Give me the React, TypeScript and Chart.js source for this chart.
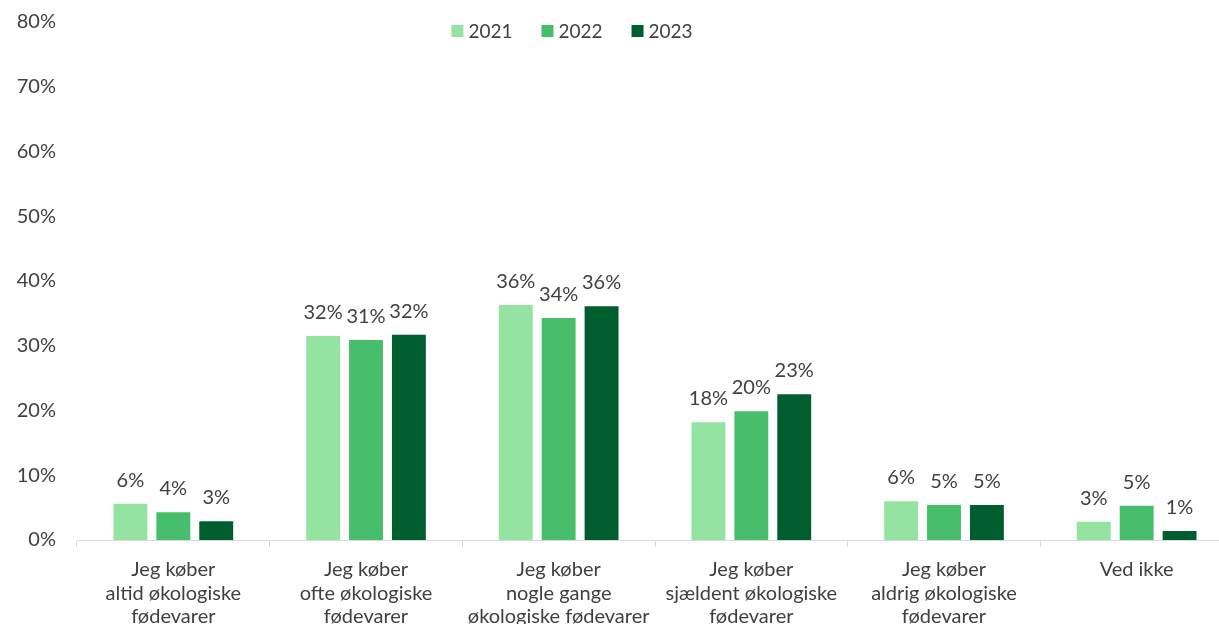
import React, { useEffect, useRef } from 'react';
import { Chart, registerables } from 'chart.js';

Chart.register(...registerables);

const categories: string[][] = [
  ['Jeg køber', 'altid økologiske', 'fødevarer'],
  ['Jeg køber', 'ofte økologiske', 'fødevarer'],
  ['Jeg køber', 'nogle gange', 'økologiske fødevarer'],
  ['Jeg køber', 'sjældent økologiske', 'fødevarer'],
  ['Jeg køber', 'aldrig økologiske', 'fødevarer'],
  ['Ved ikke'],
];
const seriesNames = ['2021', '2022', '2023'];
const values2021 = [5.6, 31.5, 36.3, 18.2, 6.0, 2.8];
const values2022 = [4.3, 30.9, 34.3, 19.9, 5.4, 5.3];
const values2023 = [2.9, 31.7, 36.1, 22.5, 5.4, 1.4];
const seriesColors = ['#95E3A0', '#47BE6C', '#005D2E'];
const yMin = 0;
const yMax = 80;
const yStep = 10;

const FONT = 'Lato';
const TEXT = '#404040';
const CW = 1240;
const CH = 650;

const dataLabels = {
  id: 'dataLabels',
  afterDatasetsDraw(chart: any) {
    const ctx = chart.ctx;
    ctx.save();
    ctx.font = `20px ${FONT}`;
    ctx.fillStyle = TEXT;
    ctx.textAlign = 'center';
    ctx.textBaseline = 'alphabetic';
    chart.data.datasets.forEach((ds: any, i: number) => {
      const meta = chart.getDatasetMeta(i);
      meta.data.forEach((bar: any, j: number) => {
        const v = ds.data[j];
        ctx.fillText(Math.round(v) + '%', bar.x, bar.y - 17);
      });
    });
    ctx.restore();
  },
};

const topLegend = {
  id: 'topLegend',
  afterDraw(chart: any, _args: any, opts: any) {
    const ctx = chart.ctx;
    ctx.save();
    ctx.font = `19px ${FONT}`;
    ctx.textBaseline = 'middle';
    ctx.textAlign = 'left';
    const box = 12;
    const gapBoxText = 5;
    const gapItems = 29;
    const items = chart.data.datasets.map((ds: any) => ({
      label: ds.label,
      color: ds.backgroundColor,
      w: box + gapBoxText + ctx.measureText(ds.label).width,
    }));
    const total = items.reduce((s: number, it: any) => s + it.w, 0) + gapItems * (items.length - 1);
    let x = opts.centerX - total / 2;
    const y = opts.centerY;
    items.forEach((it: any) => {
      ctx.fillStyle = it.color;
      ctx.fillRect(x, y - box / 2, box, box);
      ctx.fillStyle = TEXT;
      ctx.fillText(it.label, x + box + gapBoxText, y + 1);
      x += it.w + gapItems;
    });
    ctx.restore();
  },
};

export default function App() {
  const ref = useRef<HTMLCanvasElement>(null);
  useEffect(() => {
    if (!ref.current) return;
    const seriesValues = [values2021, values2022, values2023];
    const chart = new Chart(ref.current, {
      type: 'bar',
      data: {
        labels: categories as any,
        datasets: seriesNames.map((name, i) => ({
          label: name,
          data: seriesValues[i],
          backgroundColor: seriesColors[i],
          borderWidth: 0,
          categoryPercentage: 0.668,
          barPercentage: 0.79,
        })),
      },
      options: {
        animation: false,
        responsive: false,
        layout: { padding: { top: 22, right: 7, left: 0, bottom: 0 } },
        plugins: {
          legend: { display: false },
          tooltip: { enabled: false },
          topLegend: { centerX: 572, centerY: 31 },
        } as any,
        scales: {
          x: {
            afterFit(scale: any) {
              scale.height = CH - 540;
              scale.paddingLeft = 0;
              scale.paddingRight = 0;
            },
            grid: {
              display: true,
              offset: true,
              drawOnChartArea: false,
              drawTicks: true,
              tickLength: 7,
              color: '#d9d9d9',
            },
            border: { display: true, color: '#d9d9d9', width: 1 },
            ticks: {
              color: TEXT,
              font: { family: FONT, size: 20, lineHeight: 1.17 },
              padding: 11,
              maxRotation: 0,
              autoSkip: false,
            },
          },
          y: {
            min: yMin,
            max: yMax,
            afterFit(scale: any) {
              scale.width = 77;
              scale.paddingTop = 0;
              scale.paddingBottom = 0;
            },
            grid: { display: false, drawTicks: false },
            border: { display: false },
            ticks: {
              stepSize: yStep,
              color: TEXT,
              font: { family: FONT, size: 20 },
              padding: 21,
              callback: (v: any) => v + '%',
            },
          },
        },
      },
      plugins: [dataLabels, topLegend],
    });
    return () => chart.destroy();
  }, []);
  return (
    <div
      style={{
        position: 'fixed',
        left: 0,
        top: 0,
        width: 1219,
        height: 624,
        overflow: 'hidden',
        background: '#fff',
      }}
    >
      <canvas ref={ref} width={CW} height={CH} style={{ display: 'block', width: CW, height: CH }} />
    </div>
  );
}
